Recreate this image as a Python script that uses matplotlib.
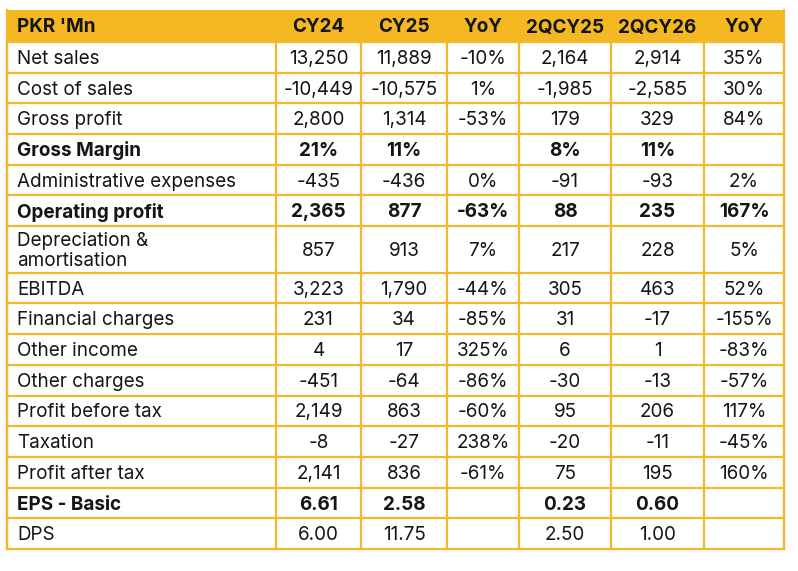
import matplotlib
matplotlib.use("Agg")
import matplotlib.pyplot as plt
from matplotlib.patches import Rectangle

header = ["PKR 'Mn", "CY24", "CY25", "YoY", "2QCY25", "2QCY26", "YoY"]
row_labels = ["Net sales", "Cost of sales", "Gross profit", "Gross Margin",
              "Administrative expenses", "Operating profit",
              "Depreciation &\namortisation", "EBITDA", "Financial charges",
              "Other income", "Other charges", "Profit before tax", "Taxation",
              "Profit after tax", "EPS - Basic", "DPS"]
cy24 = ["13,250", "-10,449", "2,800", "21%", "-435", "2,365", "857", "3,223",
        "231", "4", "-451", "2,149", "-8", "2,141", "6.61", "6.00"]
cy25 = ["11,889", "-10,575", "1,314", "11%", "-436", "877", "913", "1,790",
        "34", "17", "-64", "863", "-27", "836", "2.58", "11.75"]
yoy_a = ["-10%", "1%", "-53%", "", "0%", "-63%", "7%", "-44%", "-85%", "325%",
         "-86%", "-60%", "238%", "-61%", "", ""]
q25 = ["2,164", "-1,985", "179", "8%", "-91", "88", "217", "305", "31", "6",
       "-30", "95", "-20", "75", "0.23", "2.50"]
q26 = ["2,914", "-2,585", "329", "11%", "-93", "235", "228", "463", "-17", "1",
       "-13", "206", "-11", "195", "0.60", "1.00"]
yoy_q = ["35%", "30%", "84%", "", "2%", "167%", "5%", "52%", "-155%", "-83%",
         "-57%", "117%", "-45%", "160%", "", ""]
bold_rows = {"Gross Margin", "Operating profit", "EPS - Basic"}

W, H = 798, 571
fig = plt.figure(figsize=(W / 100, H / 100), dpi=100)
ax = fig.add_axes([0, 0, 1, 1])
ax.set_xlim(0, W)
ax.set_ylim(H, 0)
ax.axis("off")

FONT = "Inter"
FS = 13.6
gold = "#F4B822"
line_c = "#F5B82A"
txt_c = "#151515"
DY = 1.5

col_x = [7, 276, 361, 447, 519, 611, 704, 784]
top = 10
head_h = 32
row_h = 30.7
tall_h = 46.6

ys = [top, top + head_h]
for lab in row_labels:
    ys.append(ys[-1] + (tall_h if "\n" in lab else row_h))

ax.add_patch(Rectangle((col_x[0], ys[0]), col_x[-1] - col_x[0], ys[1] - ys[0],
                       facecolor=gold, edgecolor="none", zorder=1))

for y in ys[1:]:
    ax.plot([col_x[0], col_x[-1]], [y, y], color=line_c, lw=1.6, zorder=2,
            solid_capstyle="projecting")
for x in col_x:
    ax.plot([x, x], [ys[1], ys[-1]], color=line_c, lw=1.6, zorder=2,
            solid_capstyle="projecting")
ax.plot([col_x[0], col_x[0]], [ys[0], ys[-1]], color=line_c, lw=1.6, zorder=2)
ax.plot([col_x[-1], col_x[-1]], [ys[0], ys[-1]], color=line_c, lw=1.6, zorder=2)

hy = (ys[0] + ys[1]) / 2 + DY
ax.text(17, hy, header[0], ha="left", va="center", fontsize=FS,
        fontweight="bold", family=FONT, color=txt_c, zorder=3)
for i in range(1, 7):
    ax.text((col_x[i] + col_x[i + 1]) / 2, hy, header[i], ha="center",
            va="center", fontsize=FS, fontweight="bold", family=FONT,
            color=txt_c, zorder=3)

cols = [cy24, cy25, yoy_a, q25, q26, yoy_q]
for r, lab in enumerate(row_labels):
    yc = (ys[r + 1] + ys[r + 2]) / 2 + DY
    fw = "bold" if lab in bold_rows else "normal"
    ax.text(17, yc, lab, ha="left", va="center", fontsize=FS, fontweight=fw,
            family=FONT, color=txt_c, linespacing=1.2, zorder=3)
    for c, vals in enumerate(cols):
        ax.text((col_x[c + 1] + col_x[c + 2]) / 2, yc, vals[r], ha="center",
                va="center", fontsize=FS, fontweight=fw, family=FONT,
                color=txt_c, zorder=3)

fig.savefig("out.png", dpi=100, facecolor="white")
